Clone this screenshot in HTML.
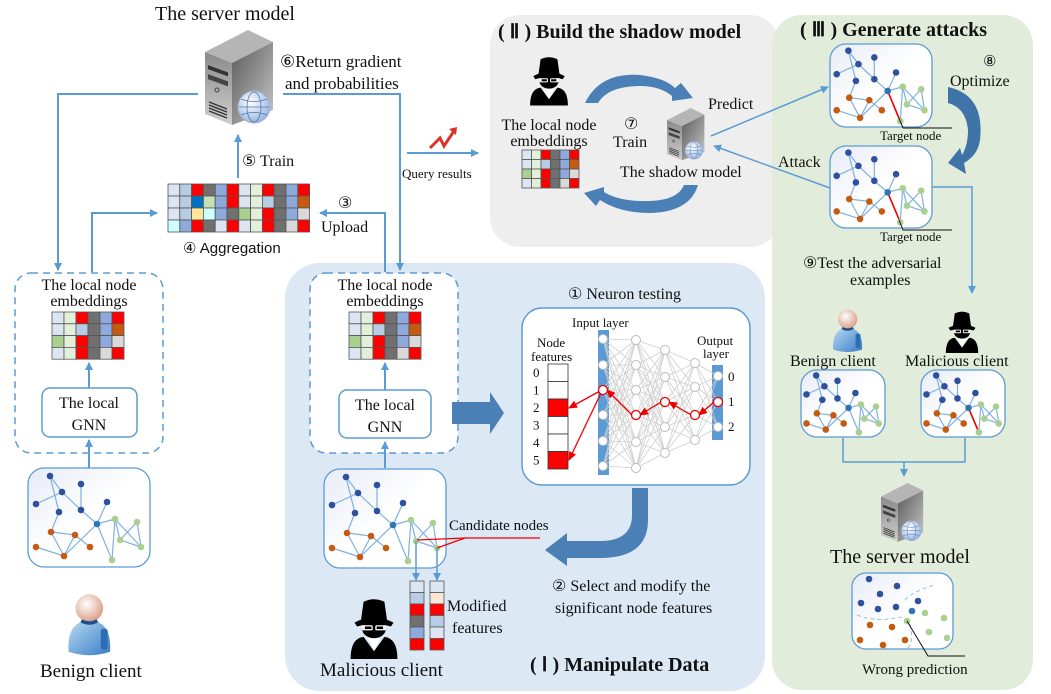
<!DOCTYPE html>
<html><head><meta charset="utf-8">
<style>
html,body{margin:0;padding:0;background:#fff;}
svg{display:block;}
text{font-family:"Liberation Serif",serif;fill:#111;}
.s{font-family:"Liberation Sans",sans-serif;}
.b{font-weight:bold;}
</style></head>
<body>
<svg id="sv" width="1051" height="694" viewBox="0 0 1051 694" xmlns="http://www.w3.org/2000/svg">
<defs>
<marker id="ah" markerWidth="8" markerHeight="8" refX="7" refY="4" orient="auto" markerUnits="userSpaceOnUse">
<path d="M0,0 L8,4 L0,8 z" fill="#5b9bd5"/></marker>
<marker id="ahr" markerWidth="9" markerHeight="8" refX="8" refY="4" orient="auto" markerUnits="userSpaceOnUse">
<path d="M0,0 L9,4 L0,8 z" fill="#e00"/></marker>
<linearGradient id="gb" x1="0" y1="0" x2="1" y2="1"><stop offset="0" stop-color="#e6ebf5"/><stop offset="0.5" stop-color="#fff"/><stop offset="1" stop-color="#fff"/></linearGradient>
<linearGradient id="sf" x1="0" y1="0" x2="0" y2="1"><stop offset="0" stop-color="#8a8a8a"/><stop offset="1" stop-color="#cfcfcf"/></linearGradient>
<linearGradient id="sr" x1="0" y1="0" x2="1" y2="1"><stop offset="0" stop-color="#5a5a5a"/><stop offset="1" stop-color="#c8c8c8"/></linearGradient>
<radialGradient id="gl" cx="0.4" cy="0.35" r="0.7"><stop offset="0" stop-color="#fff"/><stop offset="1" stop-color="#8fb3e0"/></radialGradient>
<radialGradient id="hd" cx="0.4" cy="0.35" r="0.7"><stop offset="0" stop-color="#fff"/><stop offset="1" stop-color="#d89a80"/></radialGradient>
<linearGradient id="bd" x1="0" y1="0" x2="1" y2="1"><stop offset="0" stop-color="#b9dcf5"/><stop offset="1" stop-color="#3a7cc4"/></linearGradient>
<g id="server">
<polygon points="0,22 43,0 68,12 27,33" fill="#b5b5b5"/>
<polygon points="0,22 27,33 27,95 0,84" fill="url(#sf)"/>
<polygon points="27,33 68,12 68,80 27,95" fill="url(#sr)"/>
<rect x="3" y="35" width="20" height="4" fill="#333" transform="skewY(20) translate(0,-1)"/>
<rect x="3" y="44" width="20" height="5" fill="#444" transform="skewY(20) translate(0,-1)"/>
<circle cx="12" cy="60" r="2" fill="none" stroke="#444"/>
<g stroke="#333" stroke-width="1.3"><line x1="4" y1="72" x2="22" y2="79"/><line x1="4" y1="75" x2="22" y2="82"/><line x1="4" y1="78" x2="22" y2="85"/><line x1="4" y1="81" x2="22" y2="88"/></g>
<circle cx="49" cy="77" r="16" fill="url(#gl)" stroke="#aac" stroke-width="1"/>
<g fill="none" stroke="#5577aa" stroke-width="0.8"><ellipse cx="49" cy="77" rx="7" ry="15"/><line x1="34" y1="77" x2="64" y2="77"/><path d="M36,69 Q49,74 62,69 M36,85 Q49,80 62,85"/></g>
</g>
<g id="spy">
<path d="M5,22 Q20,14 35,22 L33,25 Q20,21 7,25 z" fill="#000"/>
<path d="M10,20 L12,6 Q20,2 28,6 L30,20 z" fill="#000"/>
<ellipse cx="20" cy="27" rx="9" ry="7" fill="#000"/>
<rect x="11" y="24" width="8" height="4" rx="1" fill="#fff"/><rect x="21" y="24" width="8" height="4" rx="1" fill="#fff"/>
<rect x="13" y="25" width="5" height="2" fill="#000"/><rect x="22" y="25" width="5" height="2" fill="#000"/>
<path d="M2,50 Q2,34 12,33 L20,44 L28,33 Q38,34 38,50 z" fill="#000"/>
<path d="M15,34 L20,43 L25,34 z" fill="#fff"/>
</g>
<g id="person">
<path d="M4,52 Q2,26 22,24 Q42,26 40,52 Q22,58 4,52 z" fill="url(#bd)"/>
<rect x="32" y="32" width="6" height="18" rx="2" fill="#2d6db3"/>
<circle cx="22" cy="14" r="12" fill="url(#hd)"/>
<path d="M15,25 Q22,29 29,25" stroke="#1e4f90" stroke-width="3" fill="none"/>
</g>
</defs>

<!-- panels -->
<rect x="490" y="15" width="290" height="232" rx="30" fill="#eeeeee"/>
<rect x="772" y="15" width="261" height="675" rx="30" fill="#e2ecda"/>
<rect x="285" y="263" width="480" height="428" rx="35" fill="#dde8f5"/>

<!-- top -->
<text x="155" y="20" font-size="20">The server model</text>
<use href="#server" x="205" y="30"/>
<text x="280" y="67" font-size="17">⑥Return gradient</text>
<text x="285" y="89" font-size="17">and probabilities</text>
<g stroke="#5b9bd5" stroke-width="2" fill="none">
<polyline points="198,94 58,94 58,270" marker-end="url(#ah)"/>
<polyline points="283,94 400,94 400,270" marker-end="url(#ah)"/>
<line x1="238" y1="178" x2="238" y2="135" marker-end="url(#ah)"/>
<polyline points="92,272 92,213 157,213" marker-end="url(#ah)"/>
<polyline points="385,272 385,213 320,213" marker-end="url(#ah)"/>
<line x1="407" y1="153" x2="478" y2="153" marker-end="url(#ah)"/>
</g>
<path d="M430,148 L440,138 L444,146 L454,131" stroke="#d32" stroke-width="3" fill="none"/>
<path d="M449,129 L457,127 L456,135 z" fill="#d32"/>
<text x="402" y="178" font-size="13">Query results</text>
<text x="242" y="166" font-size="16">⑤ Train</text>
<g id="agg"></g>
<text x="183" y="253" font-size="15" class="s">④ Aggregation</text>
<text x="338" y="208" font-size="16">③</text>
<text x="321" y="232" font-size="16">Upload</text>

<!-- left dashed -->
<rect x="15" y="273" width="148" height="180" rx="16" fill="#fff" stroke="#5b9bd5" stroke-width="1.5" stroke-dasharray="7,5"/>
<text x="89" y="290" font-size="16" text-anchor="middle">The local node</text>
<text x="89" y="306" font-size="16" text-anchor="middle">embeddings</text>
<rect x="42" y="388" width="95" height="49" rx="8" fill="#fff" stroke="#5b9bd5" stroke-width="1.5"/>
<text x="89" y="408" font-size="16" text-anchor="middle">The local</text>
<text x="89" y="430" font-size="16" text-anchor="middle">GNN</text>
<g stroke="#5b9bd5" stroke-width="2"><line x1="89" y1="388" x2="89" y2="363" marker-end="url(#ah)"/><line x1="89" y1="468" x2="89" y2="440" marker-end="url(#ah)"/></g>
<g id="g1" transform="translate(28,468)"></g>
<use href="#person" transform="translate(64,592) scale(1.15)"/>
<text x="40" y="677" font-size="19">Benign client</text>

<!-- middle dashed -->
<rect x="310" y="273" width="148" height="180" rx="16" fill="#fff" stroke="#5b9bd5" stroke-width="1.5" stroke-dasharray="7,5"/>
<text x="385" y="290" font-size="16" text-anchor="middle">The local node</text>
<text x="385" y="306" font-size="16" text-anchor="middle">embeddings</text>
<rect x="339" y="390" width="92" height="48" rx="8" fill="#fff" stroke="#5b9bd5" stroke-width="1.5"/>
<text x="385" y="410" font-size="16" text-anchor="middle">The local</text>
<text x="385" y="432" font-size="16" text-anchor="middle">GNN</text>
<g stroke="#5b9bd5" stroke-width="2"><line x1="385" y1="390" x2="385" y2="363" marker-end="url(#ah)"/><line x1="385" y1="468" x2="385" y2="442" marker-end="url(#ah)"/></g>
<g id="g2" transform="translate(324,469)"></g>
<path d="M452,402 L490,402 L490,392 L504,413 L490,434 L490,424 L452,424 z" fill="#4a80b6"/>

<!-- neuron testing -->
<text x="568" y="299" font-size="16">① Neuron testing</text>
<rect x="522" y="308" width="228" height="177" rx="20" fill="#fff" stroke="#5b9bd5" stroke-width="1.5"/>
<g id="nn"></g>
<text x="572" y="327" font-size="13">Input layer</text>
<text x="537" y="347" font-size="13">Node</text>
<text x="531" y="361" font-size="13">features</text>
<text x="697" y="345" font-size="13">Output</text>
<text x="703" y="358" font-size="13">layer</text>

<!-- select arrow -->
<path d="M632,488 L648,488 L648,520 Q648,558 600,558 L567,558 L567,566 L545,550 L567,533 L567,541 L600,541 Q632,541 632,515 z" fill="#4a80b6"/>
<text x="552" y="591" font-size="16">② Select and modify the</text>
<text x="555" y="613" font-size="16">significant node features</text>
<text x="449" y="530" font-size="15">Candidate nodes</text>
<g stroke="#e00" stroke-width="1.3" fill="none"><polyline points="540,538 465,538 417,540"/><line x1="465" y1="538" x2="437" y2="548"/></g>
<g stroke="#5b9bd5" stroke-width="1.5"><line x1="416" y1="541" x2="416" y2="580" marker-end="url(#ah)"/><line x1="437" y1="548" x2="437" y2="580" marker-end="url(#ah)"/></g>
<g id="feat"></g>
<text x="447" y="611" font-size="16">Modified</text>
<text x="452" y="633" font-size="16">features</text>
<use href="#spy" transform="translate(348,594) scale(1.3)"/>
<text x="320" y="676" font-size="19">Malicious client</text>
<text x="530" y="671" font-size="20" class="b">( Ⅰ ) Manipulate Data</text>

<!-- shadow -->
<text x="498" y="38" font-size="20" class="b">( Ⅱ ) Build the shadow model</text>
<use href="#spy" transform="translate(528,53) scale(1.05)"/>
<text x="549" y="130" font-size="16" text-anchor="middle">The local node</text>
<text x="549" y="146" font-size="16" text-anchor="middle">embeddings</text>
<path d="M585,103 Q600,72 640,75 Q665,78 675,88 L681,83 L693,98 L672,101 L672,96 Q660,86 640,86 Q608,86 598,103 z" fill="#4a80b6"/>
<path d="M698,185 Q690,212 650,213 Q620,213 600,200 L596,206 L584,193 L604,187 L604,192 Q620,202 650,201 Q678,200 684,185 z" fill="#4a80b6"/>
<text x="624" y="129" font-size="16">⑦</text>
<text x="613" y="147" font-size="16">Train</text>
<use href="#server" transform="translate(667,108) scale(0.55)"/>
<text x="708" y="109" font-size="16">Predict</text>
<text x="620" y="177" font-size="16">The shadow model</text>
<g stroke="#5b9bd5" stroke-width="1.5"><line x1="711" y1="136" x2="828" y2="87" marker-end="url(#ah)"/><line x1="830" y1="188" x2="714" y2="146" marker-end="url(#ah)"/></g>
<text x="778" y="167" font-size="16">Attack</text>

<!-- generate attacks -->
<text x="800" y="36" font-size="20" class="b">( Ⅲ ) Generate  attacks</text>
<g id="ga1" transform="translate(830,44)"></g>
<g id="ga2" transform="translate(830,146)"></g>
<g stroke="#111" stroke-width="1" fill="none"><polyline points="899,118 903,128 952,128"/><polyline points="899,220 903,230 952,230"/></g>
<text x="880" y="140" font-size="13">Target node</text>
<text x="880" y="241" font-size="13">Target node</text>
<text x="983" y="66" font-size="15">⑧</text>
<text x="950" y="86" font-size="16">Optimize</text>
<path d="M948,87 Q985,95 980,140 Q978,155 964,163 L966,174 L948,163 L960,148 L962,155 Q968,145 968,130 Q966,108 948,103 z" fill="#3f74a8"/>
<polyline points="932,187 972,187 972,293" stroke="#5b9bd5" stroke-width="1.5" fill="none" marker-end="url(#ah)"/>
<text x="803" y="268" font-size="16">⑨Test the adversarial</text>
<text x="850" y="285" font-size="16">examples</text>
<use href="#person" transform="translate(830,308) scale(0.8)"/>
<use href="#spy" transform="translate(944,308) scale(0.9)"/>
<text x="790" y="366" font-size="16">Benign client</text>
<text x="905" y="366" font-size="16">Malicious client</text>
<g id="gb1" transform="translate(801,370)"></g>
<g id="gb2" transform="translate(921,370)"></g>
<polyline points="843,438 843,462 965,462 965,438" stroke="#5b9bd5" stroke-width="1.5" fill="none"/>
<line x1="904" y1="462" x2="904" y2="476" stroke="#5b9bd5" stroke-width="1.5" marker-end="url(#ah)"/>
<use href="#server" transform="translate(881,483) scale(0.62)"/>
<text x="830" y="563" font-size="20">The server model</text>
<rect x="852" y="573" width="101" height="76" rx="14" fill="url(#gb)" stroke="#5b9bd5" stroke-width="1.3"/>
<g fill="none" stroke="#9dbde0" stroke-width="1" stroke-dasharray="4,3"><path d="M857,615 Q875,622 895,618 Q905,615 910,625 Q915,645 905,650"/><path d="M905,600 Q915,590 935,585"/></g>
<g id="wp"></g>
<polyline points="907,621 928,656 965,656" stroke="#111" stroke-width="1" fill="none"/>
<text x="862" y="674" font-size="15">Wrong prediction</text>
</svg>
<script>
const NS="http://www.w3.org/2000/svg";
function el(p,t,a){const e=document.createElementNS(NS,t);for(const k in a)e.setAttribute(k,a[k]);p.appendChild(e);return e;}
const C={lb:"#dce6f2",b:"#b8cce4",r:"#ff0000",g:"#707070",p:"#8ea9db",lg:"#e2efda",db:"#0070c0",mg:"#c6e0b4",o:"#c55a11",y:"#ffe699",c:"#ccffff",gg:"#a9d08e",gr:"#d9d9d9"};
function mat(p,x,y,rows,w,h){rows.forEach((r,i)=>r.forEach((c,j)=>el(p,"rect",{x:x+j*w,y:y+i*h,width:w,height:h,fill:C[c],stroke:"#555","stroke-width":0.8})));}
const svg=document.getElementById("sv");
const agg=[["lb","b","r","g","p","r","lb","lg","r","g","p","r"],["lb","b","db","mg","p","r","lb","lg","b","g","p","o"],["lb","b","y","c","p","g","gg","lg","r","g","p","gr"],["c","p","r","g","lb","r","lb","lg","r","g","gr","r"]];
mat(document.getElementById("agg"),168,184,agg,11.8,12);
const sm=[["lb","lg","r","g","p","r"],["lb","lg","b","g","p","o"],["gg","lg","r","g","p","gr"],["lb","lg","r","g","gr","r"]];
mat(svg,52,312,sm,12,11.8);
mat(svg,349,312,sm,12,11.8);
mat(svg,522,150,sm,9.5,9.5);
const N=[[22,8,"B"],[34,24,"B"],[53,16,"B"],[8,36,"B"],[31,44,"B"],[53,42,"B"],[79,34,"B"],[69,56,"B2"],[23,64,"O"],[47,67,"O"],[8,79,"O"],[36,88,"O"],[62,79,"O"],[87,51,"G"],[109,54,"G"],[92,72,"G"],[113,79,"G"],[84,92,"G"]];
const E=[[0,1],[0,4],[1,3],[1,5],[2,5],[5,7],[7,6],[4,8],[8,9],[8,11],[10,11],[11,9],[9,12],[11,7],[7,13],[13,15],[13,17],[13,16],[14,15],[15,16],[14,16],[7,17]];
const NC={B:"#2f4f9f",B2:"#2e75b6",O:"#c55a11",G:"#a9d08e"};
function graph(id,sx,sy,red){const g=document.getElementById(id);
 el(g,"rect",{x:0,y:0,width:122*sx,height:99*sy,rx:16,fill:"url(#gb)",stroke:"#5b9bd5","stroke-width":1.3});
 E.forEach(([a,b])=>el(g,"line",{x1:N[a][0]*sx,y1:N[a][1]*sy,x2:N[b][0]*sx,y2:N[b][1]*sy,stroke:"#7fb0e0","stroke-width":1.2}));
 if(red)el(g,"line",{x1:N[7][0]*sx,y1:N[7][1]*sy,x2:N[17][0]*sx,y2:N[17][1]*sy,stroke:"#e00","stroke-width":1.6});
 N.forEach(n=>el(g,"circle",{cx:n[0]*sx,cy:n[1]*sy,r:3.3,fill:NC[n[2]]}));}
graph("g1",1,1,false);graph("g2",1,1,false);
graph("ga1",102/122,83/99,true);graph("ga2",102/122,82/99,true);
graph("gb1",84/122,67/99,false);graph("gb2",84/122,67/99,true);
const wp=document.getElementById("wp");
[[869,579,"B"],[897,586,"B"],[880,594,"B"],[861,603,"B"],[878,609,"B"],[896,607,"B"],[918,601,"B"],[912,611,"B2"],[870,625,"O"],[892,627,"O"],[860,640,"O"],[883,645,"O"],[905,640,"O"],[907,621,"G"],[925,613,"G"],[944,618,"G"],[929,632,"G"],[947,638,"G"]].forEach(n=>el(wp,"circle",{cx:n[0],cy:n[1],r:3.3,fill:NC[n[2]]}));
const nn=document.getElementById("nn");
el(nn,"rect",{x:598,y:330,width:11,height:145,fill:"#5b9bd5"});
el(nn,"rect",{x:712,y:365,width:11,height:75,fill:"#5b9bd5"});
const L=[[603,[339,365,390,415,441,466]],[636,[340,365,390,415,442,468]],[665,[350,377,402,427,453]],[695,[363,387,415,440]],[718,[376,402,427]]];
for(let i=0;i<4;i++)L[i][1].forEach(a=>L[i+1][1].forEach(b=>el(nn,"line",{x1:L[i][0],y1:a,x2:L[i+1][0],y2:b,stroke:"#cfcfcf","stroke-width":0.8})));
L.forEach(([x,ys])=>ys.forEach(y=>el(nn,"circle",{cx:x,cy:y,r:4.5,fill:"#fff",stroke:"#bbb","stroke-width":1})));
for(let i=0;i<6;i++){el(nn,"rect",{x:548,y:364+i*17.5,width:20,height:17.5,fill:(i==2||i==5)?"#f00":"#fff",stroke:"#333","stroke-width":0.8});
 const t=el(nn,"text",{x:533,y:377+i*17.5,"font-size":13});t.textContent=i;}
[0,1,2].forEach(i=>{const t=el(nn,"text",{x:728,y:381+i*25,"font-size":13});t.textContent=i;});
const rp=[[718,402],[695,415],[665,402],[636,415],[603,390]];
for(let i=0;i<4;i++)el(nn,"line",{x1:rp[i][0]-4,y1:rp[i][1],x2:rp[i+1][0]+4,y2:rp[i+1][1],stroke:"#e00","stroke-width":1.3,"marker-end":"url(#ahr)"});
el(nn,"line",{x1:600,y1:391,x2:569,y2:408,stroke:"#e00","stroke-width":1.3,"marker-end":"url(#ahr)"});
el(nn,"line",{x1:601,y1:393,x2:569,y2:460,stroke:"#e00","stroke-width":1.3,"marker-end":"url(#ahr)"});
rp.forEach(([x,y])=>el(nn,"circle",{cx:x,cy:y,r:4.5,fill:"#fff",stroke:"#e00","stroke-width":1.3}));
const f=document.getElementById("feat");
const c1=["lb","b","r","g","p","r"],c2=["lb","#fbe5d6","r","b","lb","r"];
c1.forEach((c,i)=>el(f,"rect",{x:410,y:581+i*11.5,width:14,height:11.5,fill:C[c],stroke:"#555","stroke-width":0.8}));
c2.forEach((c,i)=>el(f,"rect",{x:430,y:581+i*11.5,width:14,height:11.5,fill:C[c]||c,stroke:"#555","stroke-width":0.8}));
</script>
</body></html>
